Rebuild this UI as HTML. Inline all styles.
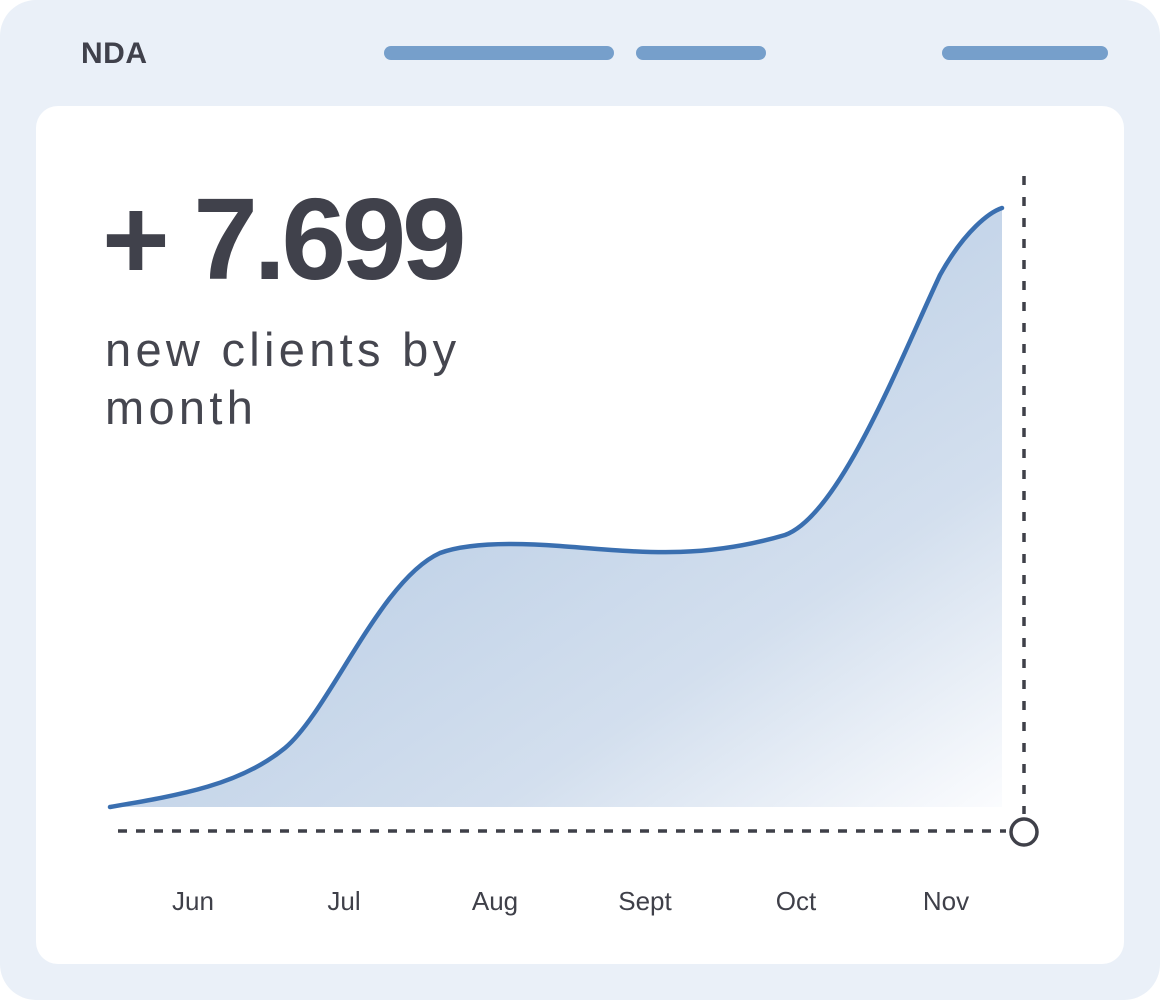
<!DOCTYPE html>
<html><head><style>
html,body{margin:0;padding:0;background:#fff;}
body{width:1160px;height:1000px;position:relative;overflow:hidden;font-family:"Liberation Sans",sans-serif;}
.outer{position:absolute;left:0;top:0;width:1160px;height:1000px;background:#eaf0f8;border-radius:36px;}
.inner{position:absolute;left:36px;top:106px;width:1088px;height:858px;background:#fff;border-radius:22px;}
.bar{position:absolute;top:46px;height:14px;background:#769fcb;border-radius:7px;}
.t{position:absolute;color:#40414b;white-space:nowrap;}
</style></head><body>
<div class="outer"></div>
<div class="inner"></div>
<div class="t" style="left:81px;top:37px;font-size:30px;font-weight:bold;letter-spacing:0.5px;">NDA</div>
<div class="bar" style="left:384px;width:230px"></div>
<div class="bar" style="left:636px;width:130px"></div>
<div class="bar" style="left:942px;width:166px"></div>
<div class="t" style="left:102px;top:174px;font-size:116px;font-weight:bold;letter-spacing:-4.3px;line-height:130px;">+ 7.699</div>
<div class="t" style="left:105px;top:321px;font-size:47px;line-height:58px;color:#45464f;letter-spacing:4.3px;">new clients by<br>month</div>
<svg width="1160" height="1000" style="position:absolute;left:0;top:0">
<defs><linearGradient id="g" x1="0.3" y1="0.3" x2="1" y2="1">
<stop offset="0" stop-color="#b9cde5"/><stop offset="0.6" stop-color="#d3dfee"/><stop offset="1" stop-color="#fbfcfe"/></linearGradient></defs>
<path d="M110,807 C180,795 240,785 285,748 C330,710 380,580 440,553 C470,542 520,543 560,546 C640,552 700,560 785,535 C840,515 900,360 940,275 C965,230 990,212 1002,208 L1002,807 Z" fill="url(#g)"/>
<path d="M110,807 C180,795 240,785 285,748 C330,710 380,580 440,553 C470,542 520,543 560,546 C640,552 700,560 785,535 C840,515 900,360 940,275 C965,230 990,212 1002,208" fill="none" stroke="#3a6fb0" stroke-width="4.5" stroke-linecap="round"/>
<line x1="118" y1="831" x2="1006" y2="831" stroke="#3f4049" stroke-width="3.5" stroke-dasharray="9,9"/>
<line x1="1024" y1="176" x2="1024" y2="814" stroke="#3f4049" stroke-width="3.5" stroke-dasharray="9,12"/>
<circle cx="1024" cy="832" r="13" fill="#fff" stroke="#3f4049" stroke-width="3.5"/>
<g font-family="Liberation Sans,sans-serif" font-size="26" fill="#3f4049" text-anchor="middle">
<text x="193" y="910">Jun</text><text x="344" y="910">Jul</text><text x="495" y="910">Aug</text>
<text x="645" y="910">Sept</text><text x="796" y="910">Oct</text><text x="946" y="910">Nov</text>
</g>
</svg>
</body></html>
